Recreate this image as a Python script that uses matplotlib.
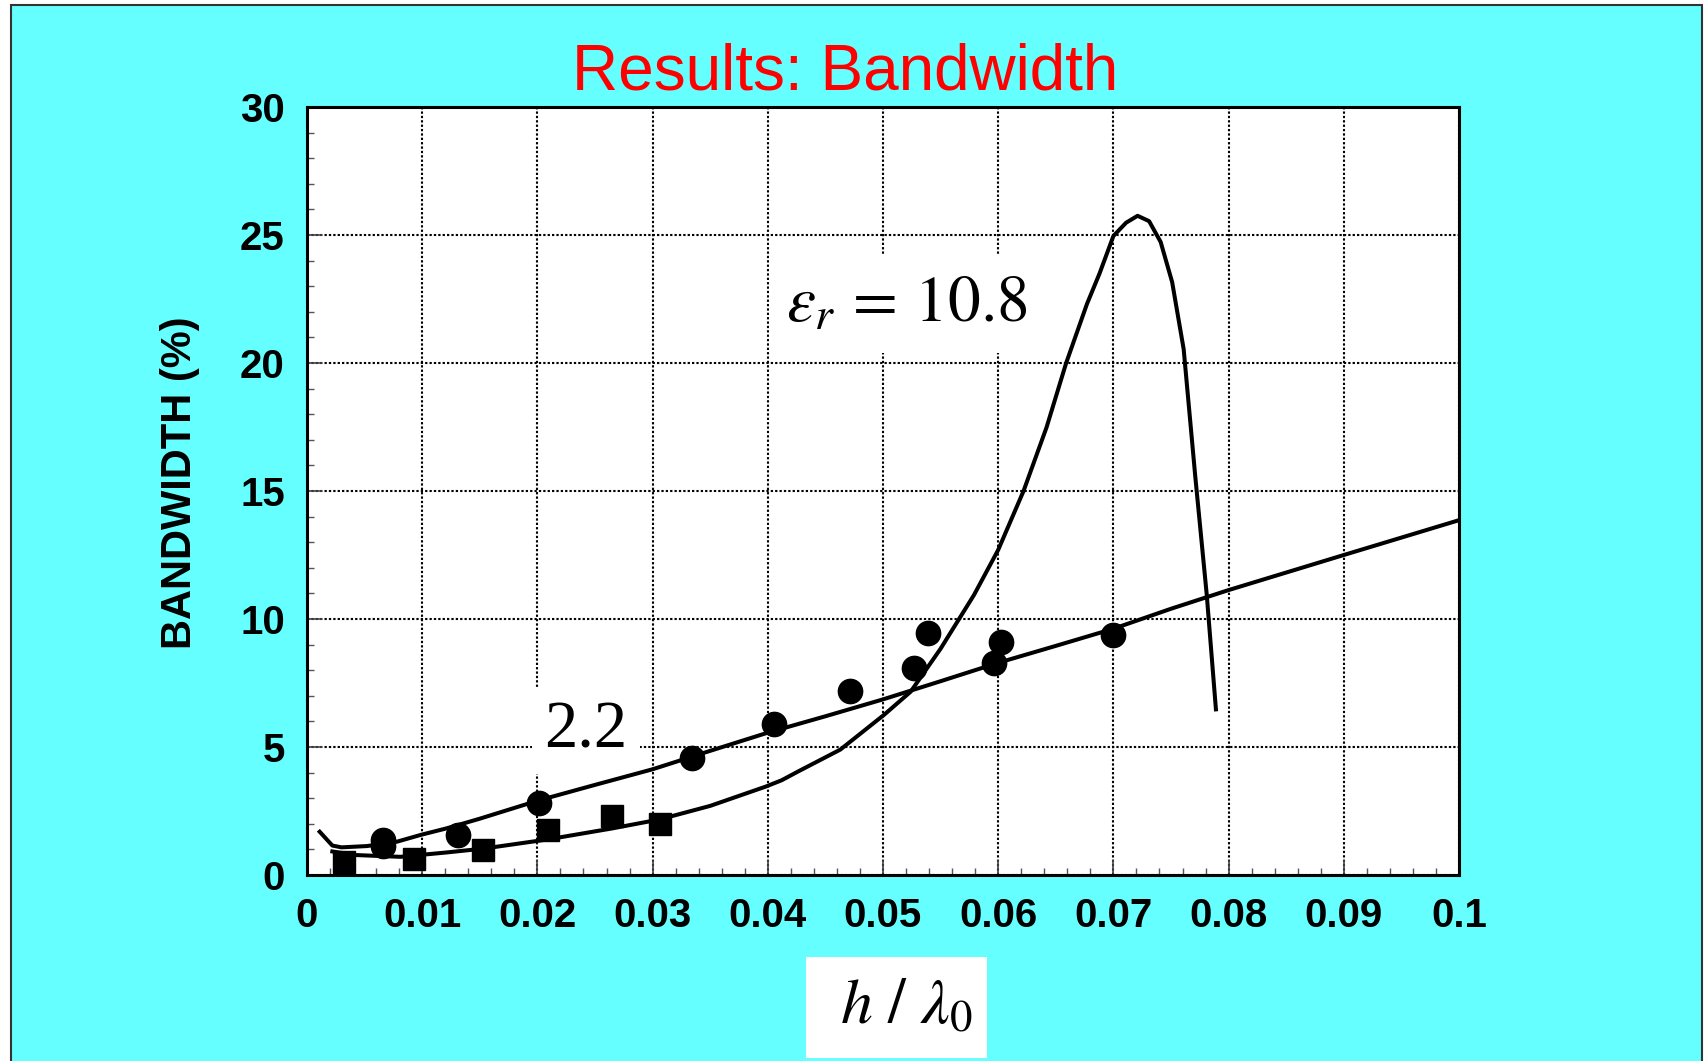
import matplotlib
matplotlib.use("Agg")
import matplotlib.pyplot as plt
from matplotlib.patches import Rectangle
from matplotlib.ticker import MultipleLocator, FixedLocator

# ---------------- data ----------------
# Measured, eps_r = 2.2 (circles)
circ_x = [0.0066, 0.0066, 0.0131, 0.0201, 0.0334, 0.0405, 0.0471, 0.0527, 0.0539, 0.0596, 0.0602, 0.0700]
circ_y = [1.12, 1.35, 1.57, 2.81, 4.58, 5.88, 7.20, 8.07, 9.47, 8.30, 9.11, 9.39]

# Measured, eps_r = 10.8 (squares)
sq_x = [0.0032, 0.0093, 0.0153, 0.0209, 0.0265, 0.0306]
sq_y = [0.49, 0.64, 0.97, 1.75, 2.30, 1.99]

# Theory, eps_r = 2.2
th22_x = [0.0011, 0.0022, 0.0030, 0.0052, 0.0078, 0.0099, 0.0121, 0.015, 0.020, 0.025, 0.030,
          0.035, 0.040, 0.045, 0.050, 0.055, 0.060, 0.065, 0.070, 0.075, 0.080, 0.090, 0.100]
th22_y = [1.69, 1.15, 1.08, 1.13, 1.30, 1.57, 1.82, 2.20, 2.90, 3.52, 4.13,
          4.85, 5.56, 6.20, 6.86, 7.57, 8.29, 8.95, 9.62, 10.40, 11.13, 12.50, 13.86]

# Theory, eps_r = 10.8
th108_x = [0.0022, 0.0042, 0.0081, 0.0121, 0.0153, 0.0209, 0.0265, 0.0306, 0.035, 0.0398,
           0.0412, 0.0427, 0.0463, 0.0501, 0.0524, 0.055, 0.0579, 0.060, 0.0622, 0.0642,
           0.0659, 0.0677, 0.0688, 0.0700, 0.0711, 0.0721, 0.0731, 0.0741, 0.0751, 0.0761,
           0.0771, 0.0781, 0.0789]
th108_y = [0.92, 0.78, 0.71, 0.88, 1.03, 1.39, 1.82, 2.17, 2.70, 3.45,
           3.70, 4.06, 4.90, 6.26, 7.16, 8.84, 10.94, 12.70, 15.0, 17.49,
           20.0, 22.30, 23.50, 24.96, 25.48, 25.75, 25.54, 24.73, 23.16, 20.54,
           15.6, 10.96, 6.47]

x_ticks = [0, 0.01, 0.02, 0.03, 0.04, 0.05, 0.06, 0.07, 0.08, 0.09, 0.1]
x_ticklabels = ["0", "0.01", "0.02", "0.03", "0.04", "0.05", "0.06", "0.07", "0.08", "0.09", "0.1"]
y_ticks = [0, 5, 10, 15, 20, 25, 30]
y_ticklabels = ["0", "5", "10", "15", "20", "25", "30"]

title = "Results: Bandwidth"
ylabel = "BANDWIDTH (%)"
xlabel = r"$h\ /\ \lambda_0$"
label_108 = r"$\varepsilon_r\,=\,10.8$"
label_22 = "2.2"

# ---------------- figure ----------------
plt.rcParams["mathtext.fontset"] = "stix"
W, H = 1706, 1061
fig = plt.figure(figsize=(W / 100, H / 100), dpi=100)
fig.patch.set_facecolor("white")

cyan = "#66FFFF"
fig.add_artist(Rectangle((11 / W, -0.01), (1702 - 11) / W, 1.01 - 5 / H,
                         transform=fig.transFigure, facecolor=cyan,
                         edgecolor="#333333", linewidth=1.5, zorder=0))

ax = fig.add_axes([307 / W, 1 - 875 / H, (1459 - 307) / W, (875 - 107) / H])
ax.set_facecolor("white")
ax.set_xlim(0, 0.1)
ax.set_ylim(0, 30)

sans = "Liberation Sans"
serif = "Liberation Serif"

ax.xaxis.set_major_locator(FixedLocator(x_ticks))
ax.yaxis.set_major_locator(FixedLocator(y_ticks))
ax.set_xticklabels(x_ticklabels, fontfamily=sans, fontweight="bold", fontsize=29)
ax.set_yticklabels(y_ticklabels, fontfamily=sans, fontweight="bold", fontsize=29)
ax.xaxis.set_minor_locator(MultipleLocator(0.002))
ax.yaxis.set_minor_locator(MultipleLocator(1))
ax.tick_params(axis="both", which="major", direction="in", length=11, width=1.2,
               color="#444444", pad=16)
ax.tick_params(axis="both", which="minor", direction="in", length=5, width=1.0,
               color="#555555")

ax.grid(True, which="major", color="black", linestyle=(0, (1.1, 1.0)), linewidth=1.5)
ax.set_axisbelow(True)
for s in ax.spines.values():
    s.set_linewidth(2.2)
    s.set_color("black")
    s.set_zorder(5)

ax.plot(th22_x, th22_y, color="black", lw=2.9, solid_joinstyle="round", zorder=3)
ax.plot(th108_x, th108_y, color="black", lw=2.9, solid_joinstyle="round", zorder=3)
ax.plot(circ_x, circ_y, linestyle="none", marker="o", markersize=17.5,
        color="black", zorder=4)
ax.plot(sq_x, sq_y, linestyle="none", marker="s", markersize=16,
        color="black", zorder=4, clip_on=False)

ax.text(0.04157, 21.62, label_108, fontsize=47, ha="left", va="baseline",
        zorder=2.5, bbox=dict(facecolor="white", edgecolor="none", pad=12))
ax.text(0.0242, 5.62, label_22, fontsize=48, fontfamily=serif, ha="center",
        va="center", zorder=2.5,
        bbox=dict(facecolor="white", edgecolor="none", pad=9))

# title
fig.text(845 / W, 1 - 89 / H, title, color="#FF0000", fontfamily=sans,
         fontsize=46, ha="center", va="baseline")
# y label
fig.text(180 / W, 1 - 483 / H, ylabel, fontfamily=sans, fontweight="bold",
         fontsize=30, rotation=90, ha="center", va="center")
# x label in white box
fig.add_artist(Rectangle((806 / W, 1 - 1058 / H), (987 - 806) / W, (1058 - 957) / H,
                         transform=fig.transFigure, facecolor="white",
                         edgecolor="none", zorder=1))
fig.text(840 / W, 1 - 1023 / H, xlabel, fontsize=46, ha="left", va="baseline",
         zorder=2)

fig.savefig("out.png", dpi=100, facecolor=fig.get_facecolor())
